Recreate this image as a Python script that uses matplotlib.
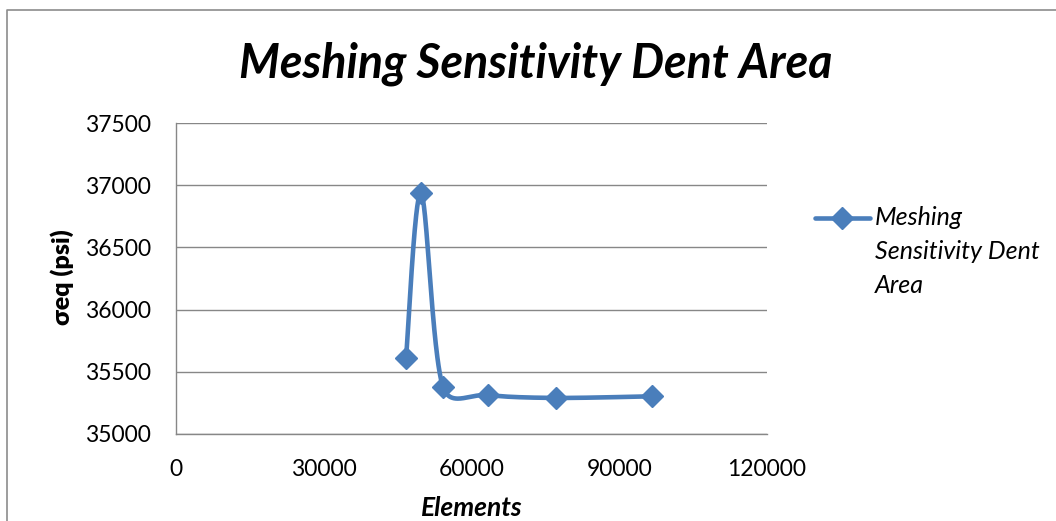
import numpy as np
import matplotlib
matplotlib.use("Agg")
import matplotlib.pyplot as plt
from matplotlib.lines import Line2D

# ---- data ----
elements = [46700, 49750, 54200, 63350, 77150, 96650]
stress = [35610, 36935, 35380, 35312, 35290, 35303]
series_name = "Meshing\nSensitivity Dent\nArea"
title = "Meshing Sensitivity Dent Area"
x_label = "Elements"
y_label = "σeq (psi)"
x_ticks = [0, 30000, 60000, 90000, 120000]
y_ticks = [35000, 35500, 36000, 36500, 37000, 37500]

W, H = 1056, 521
FONT = ['Lato', 'DejaVu Sans']
plt.rcParams['font.family'] = FONT
BLUE = '#4A7EBB'
GRID = '#878787'

fig = plt.figure(figsize=(W / 100, H / 100), dpi=100)
ax = fig.add_axes([176 / W, 1 - 434 / H, (767 - 176) / W, (434 - 123) / H])
ax.set_xlim(x_ticks[0], x_ticks[-1])
ax.set_ylim(y_ticks[0], y_ticks[-1])
ax.set_xticks(x_ticks)
ax.set_yticks(y_ticks)
ax.set_xticklabels([str(v) for v in x_ticks])
ax.set_yticklabels([str(v) for v in y_ticks])
ax.tick_params(axis='both', length=0, labelsize=16.5, colors='black')
ax.tick_params(axis='x', pad=18)
ax.tick_params(axis='y', pad=18)
for s in ['top', 'right']:
    ax.spines[s].set_visible(False)
for s in ['left', 'bottom']:
    ax.spines[s].set_color(GRID)
    ax.spines[s].set_linewidth(1.0)
ax.yaxis.grid(True, color=GRID, linewidth=1.0)
ax.set_axisbelow(True)

# Excel-like smoothed line (Bezier through points, computed in screen space,
# control-point offsets capped at half the segment length)
pts = ax.transData.transform(np.column_stack([elements, stress]))
n = len(pts)
curve = []
t = np.linspace(0, 1, 50)[:, None]
for i in range(n - 1):
    p1 = pts[i]
    p2 = pts[i + 1]
    p0 = pts[i - 1] if i > 0 else pts[i]
    p3 = pts[i + 2] if i + 2 < n else pts[i + 1]
    d12 = np.linalg.norm(p2 - p1)
    d02 = np.linalg.norm(p2 - p0)
    d13 = np.linalg.norm(p3 - p1)
    f1 = 1 / 6.0
    f2 = 1 / 6.0
    if d02 * f1 > d12 / 2:
        f1 = (d12 / 2) / d02
    if d13 * f2 > d12 / 2:
        f2 = (d12 / 2) / d13
    c1 = p1 + (p2 - p0) * f1
    c2 = p2 - (p3 - p1) * f2
    seg = ((1 - t) ** 3) * p1 + 3 * ((1 - t) ** 2) * t * c1 + 3 * (1 - t) * t ** 2 * c2 + t ** 3 * p2
    curve.append(seg if i == 0 else seg[1:])
curve = np.vstack(curve)
curve_data = ax.transData.inverted().transform(curve)
ax.plot(curve_data[:, 0], curve_data[:, 1], color=BLUE, linewidth=3.3,
        solid_capstyle='round', solid_joinstyle='round', clip_on=False)
ax.plot(elements, stress, linestyle='none', marker='D', markersize=11,
        color=BLUE, markeredgecolor=BLUE, clip_on=False)

# Title and axis labels
fig.text(536 / W, 1 - 77 / H, title, ha='center', va='baseline',
         fontsize=33.5, fontweight='bold', fontstyle='italic', family=FONT)
fig.text(62 / W, 1 - 277 / H, y_label, ha='center', va='center', rotation=90,
         fontsize=18, fontweight='heavy', family=FONT)
fig.text(472 / W, 1 - 516 / H, x_label, ha='center', va='baseline',
         fontsize=19, fontweight='bold', fontstyle='italic', family=FONT)

# Legend (manual, handle aligned with first text line)
ly = 1 - 218 / H
fig.add_artist(Line2D([815 / W, 870 / W], [ly, ly], color=BLUE, linewidth=3.3,
                      solid_capstyle='round', transform=fig.transFigure))
fig.add_artist(Line2D([842 / W], [ly], marker='D', markersize=11, color=BLUE,
                      linestyle='none', transform=fig.transFigure))
fig.text(875 / W, 1 - 206 / H, series_name, ha='left', va='top',
         fontsize=18, fontstyle='italic', linespacing=1.58, family=FONT)

# Chart border
fig.add_artist(Line2D([7 / W, 7 / W, 1.01], [-0.01, 1 - 10 / H, 1 - 10 / H],
                      color='#8c8c8c', linewidth=1.2, transform=fig.transFigure))

fig.savefig('out.png', dpi=100)
